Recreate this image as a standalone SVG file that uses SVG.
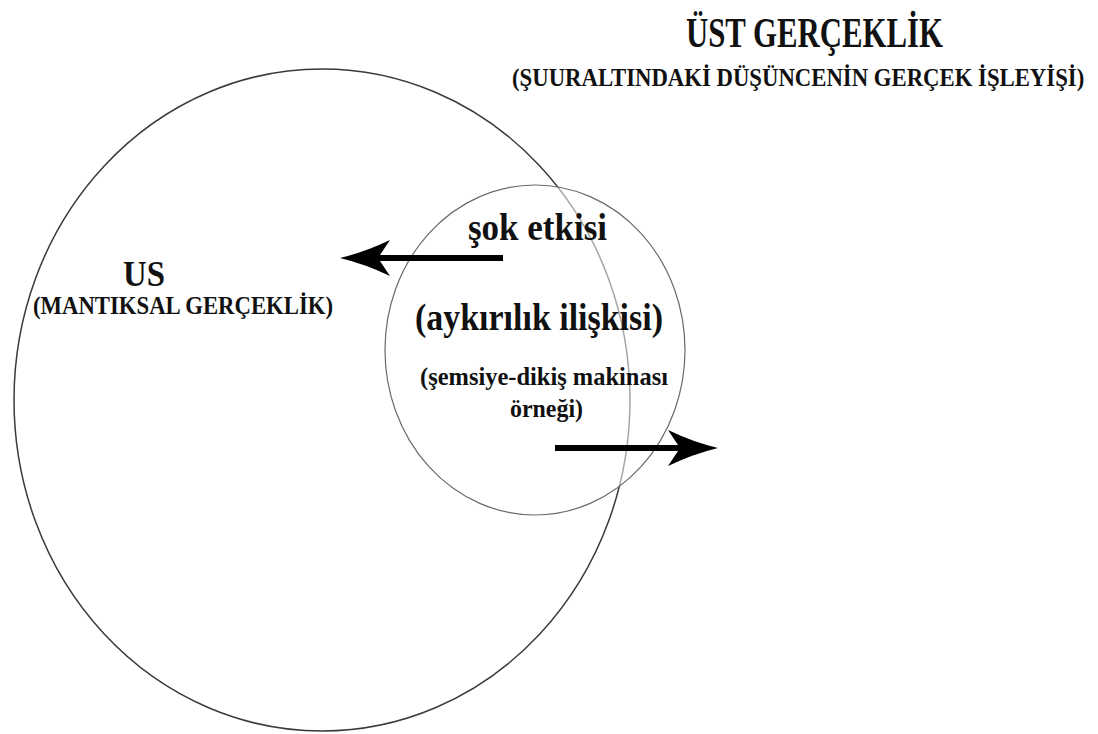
<svg xmlns="http://www.w3.org/2000/svg" width="1098" height="734" viewBox="0 0 1098 734">
  <style>
    text { font-family: "Liberation Serif", "Times New Roman", serif; font-weight: bold; fill: #111; }
    .big { fill: none; stroke: #3a3a3a; stroke-width: 1.5; }
    .small { fill: #fff; fill-opacity: 0.55; stroke: #6a6a6a; stroke-width: 1.2; }
    .arrow { stroke: #000; stroke-width: 6; fill: none; marker-end: url(#head); }
  </style>
  <defs>
    <marker id="head" markerUnits="userSpaceOnUse" viewBox="0 0 50 36" refX="12" refY="18" markerWidth="50" markerHeight="36" orient="auto">
      <path d="M0,0 Q25,12 50,18 Q25,24 0,36 L12,18 Z" fill="#000"/>
    </marker>
  </defs>
  <rect width="1098" height="734" fill="#fff"/>

  <!-- outer region: US -->
  <g id="us">
    <ellipse class="big" cx="322" cy="400" rx="308" ry="331"/>
    <text x="123" y="286" font-size="36" textLength="42" lengthAdjust="spacingAndGlyphs">US</text>
    <text x="33" y="314" font-size="26" textLength="300" lengthAdjust="spacingAndGlyphs">(MANTIKSAL GERÇEKLİK)</text>
  </g>

  <!-- inner region: contradiction relation -->
  <g id="aykirilik">
    <ellipse class="small" cx="535" cy="350" rx="150" ry="165"/>
    <text x="468" y="240" font-size="37" textLength="139" lengthAdjust="spacingAndGlyphs">şok etkisi</text>
    <text x="415" y="330" font-size="37" textLength="248" lengthAdjust="spacingAndGlyphs">(aykırılık ilişkisi)</text>
    <text x="420" y="385" font-size="26" textLength="248" lengthAdjust="spacingAndGlyphs">(şemsiye-dikiş makinası</text>
    <text x="510" y="417" font-size="26" textLength="73" lengthAdjust="spacingAndGlyphs">örneği)</text>
  </g>

  <!-- heading: upper reality -->
  <g id="ust-gerceklik">
    <text x="686" y="47" font-size="42" textLength="257" lengthAdjust="spacingAndGlyphs">ÜST GERÇEKLİK</text>
    <text transform="translate(512 86) scale(0.91 1)" x="0" y="0" font-size="25">(ŞUURALTINDAKİ DÜŞÜNCENİN GERÇEK İŞLEYİŞİ)</text>
  </g>

  <!-- connectors -->
  <g id="connectors">
    <line class="arrow" x1="503" y1="258" x2="378" y2="258"/>
    <line class="arrow" x1="555" y1="448" x2="680" y2="448"/>
  </g>
</svg>
